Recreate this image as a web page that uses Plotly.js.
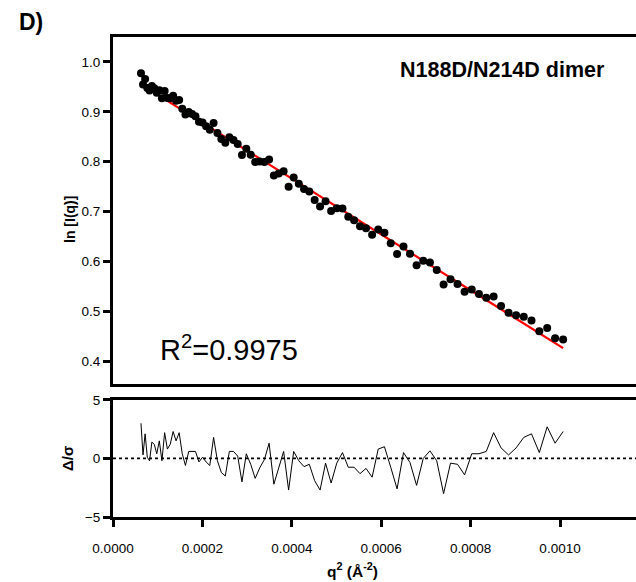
<!DOCTYPE html>
<html>
<head>
<meta charset="utf-8">
<script src="https://cdn.plot.ly/plotly-3.0.1.min.js"></script>
<style>html,body{margin:0;padding:0;background:#fff;}#chart{width:636px;height:582px;}</style>
</head>
<body>
<div id="chart"></div>
<script>
// q^2 values (Å^-2)
var q2 = [0.00006257,0.00006714,0.00007186,0.00007675,0.00008180,0.00008701,0.00009238,0.00009792,0.00010361,0.00010946,
0.00011548,0.00012165,0.00012799,0.00013449,0.00014114,0.00014796,0.00015494,0.00016208,0.00016939,0.00017685,
0.00018447,0.00019226,0.00020020,0.00020831,0.00021657,0.00022500,0.00023359,0.00024234,0.00025125,0.00026032,
0.00026955,0.00027894,0.00028850,0.00029821,0.00030809,0.00031812,0.00032832,0.00033868,0.00034920,0.00035988,
0.00037072,0.00038172,0.00039288,0.00040420,0.00041569,0.00042733,0.00043914,0.00045110,0.00046323,0.00047552,
0.00048797,0.00050058,0.00051335,0.00052628,0.00053937,0.00055263,0.00056604,0.00057962,0.00059335,0.00060725,
0.00062131,0.00063552,0.00064990,0.00066444,0.00067914,0.00069401,0.00070903,0.00072421,0.00073956,0.00075506,
0.00077073,0.00078656,0.00080254,0.00081869,0.00083500,0.00085147,0.00086810,0.00088490,0.00090185,0.00091896,
0.00093624,0.00095367,0.00097127,0.00098903,0.00100695];

// ln[I(q)] measured
var lnI = [0.9775,0.9547,0.9656,0.9478,0.9427,0.9518,0.9473,0.9382,0.9433,0.9272,
0.9418,0.9279,0.9273,0.9320,0.9223,0.9236,0.9062,0.8947,0.8996,0.8955,
0.8912,0.8800,0.8787,0.8711,0.8642,0.8775,0.8577,0.8453,0.8380,0.8487,
0.8436,0.8353,0.8134,0.8260,0.8137,0.7991,0.8001,0.7995,0.8043,0.7720,
0.7764,0.7807,0.7497,0.7682,0.7557,0.7454,0.7403,0.7231,0.7103,0.7207,
0.7009,0.7067,0.7063,0.6897,0.6824,0.6707,0.6666,0.6534,0.6637,0.6574,
0.6365,0.6146,0.6299,0.6153,0.5924,0.6014,0.5978,0.5829,0.5534,0.5642,
0.5546,0.5390,0.5436,0.5345,0.5269,0.5297,0.5107,0.4968,0.4918,0.4889,
0.4815,0.4597,0.4664,0.4459,0.4434];

// residuals Δ/σ
var resid = [3.0,0.3,2.1,0.1,-0.2,1.4,1.2,0.4,1.5,-0.2,
2.2,0.8,1.2,2.3,1.5,2.2,0.4,-0.6,0.6,0.6,
0.6,-0.3,0.1,-0.3,-0.6,1.8,-0.2,-1.2,-1.5,0.6,
0.6,0.2,-2.0,0.4,-0.5,-1.7,-0.8,-0.1,1.3,-2.2,
-0.8,0.6,-2.7,0.6,-0.2,-0.7,-0.5,-1.9,-2.7,-0.4,
-2.1,-0.4,0.5,-0.75,-0.75,-1.3,-0.85,-1.6,0.8,1.0,
-0.75,-2.6,0.5,-0.35,-2.3,0.0,0.65,-0.2,-3.0,-0.4,
-0.5,-1.4,0.4,0.4,0.6,2.2,0.9,0.3,0.9,1.8,
2.1,0.5,2.7,1.3,2.3];

// Guinier fit line end points
var fitQ2 = [0.00006257, 0.00100695];
var fitLnI = [0.9550, 0.4261];

var xTicks = [0, 0.0002, 0.0004, 0.0006, 0.0008, 0.0010];
var yTicksTop = [0.4, 0.5, 0.6, 0.7, 0.8, 0.9, 1.0];
var yTicksBot = [-5, 0, 5];

var FONT = 'Liberation Sans, Arial, sans-serif';

var traces = [
  {x: fitQ2, y: fitLnI, type: 'scatter', mode: 'lines', line: {color: '#ff0000', width: 2.2}, xaxis: 'x', yaxis: 'y', hoverinfo: 'skip'},
  {x: q2, y: lnI, type: 'scatter', mode: 'markers', marker: {color: '#000', size: 8}, xaxis: 'x', yaxis: 'y'},
  {x: q2, y: resid, type: 'scatter', mode: 'lines', line: {color: '#000', width: 1}, xaxis: 'x2', yaxis: 'y2'}
];

var xr = [0, 0.00117];
var layout = {
  width: 636, height: 582,
  margin: {l: 113, r: 0, t: 37, b: 65},
  paper_bgcolor: '#fff', plot_bgcolor: '#fff',
  showlegend: false,
  font: {family: FONT, color: '#000', size: 12},
  xaxis: {domain: [0, 1], range: xr, anchor: 'y', showline: true, linewidth: 3, linecolor: '#000', mirror: true,
          showticklabels: false, ticks: '', showgrid: false, zeroline: false},
  yaxis: {domain: [0.277, 1], range: [0.354, 1.050], anchor: 'x', showline: true, linewidth: 3, linecolor: '#000',
          tickvals: yTicksTop, ticktext: yTicksTop.map(function(v){return v.toFixed(1);}),
          ticks: 'outside', ticklen: 7, tickwidth: 3, tickcolor: '#000', showgrid: false, zeroline: false,
          tickfont: {family: FONT, size: 13.5, color: '#000'}},
  xaxis2: {domain: [0, 1], range: xr, anchor: 'y2', showline: true, linewidth: 3, linecolor: '#000', mirror: true,
           tickvals: xTicks, ticktext: xTicks.map(function(v){return v.toFixed(4);}),
           ticks: 'outside', ticklen: 7, tickwidth: 3, tickcolor: '#000', showgrid: false, zeroline: false,
           ticklabelstandoff: 10, tickfont: {family: FONT, size: 13.5, color: '#000'}},
  yaxis2: {domain: [0, 0.244], range: [-5, 5], anchor: 'x2', showline: true, linewidth: 3, linecolor: '#000',
           tickvals: yTicksBot, ticks: 'outside', ticklen: 7, tickwidth: 3, tickcolor: '#000',
           showgrid: false, zeroline: false, tickfont: {family: FONT, size: 13.5, color: '#000'}},
  shapes: [
    {type: 'line', xref: 'x2 domain', yref: 'y2', x0: 0, x1: 1, y0: 0, y1: 0,
     line: {color: '#000', width: 1.8, dash: 'dot'}, layer: 'below'}
  ],
  annotations: [
    {text: '<b>D)</b>', xref: 'paper', yref: 'paper', x: -0.157, y: 1.031, xanchor: 'center', yanchor: 'middle',
     showarrow: false, font: {family: FONT, size: 23, color: '#000'}},
    {text: '<b>N188D/N214D dimer</b>', xref: 'paper', yref: 'paper', x: 0.945, y: 0.931, xanchor: 'right', yanchor: 'middle',
     showarrow: false, font: {family: FONT, size: 21.5, color: '#000'}},
    {text: 'R<sup>2</sup>=0.9975', xref: 'paper', yref: 'paper', x: 0.086, y: 0.353, xanchor: 'left', yanchor: 'middle',
     showarrow: false, font: {family: FONT, size: 29, color: '#000'}},
    {text: '<b>ln [I(q)]</b>', xref: 'paper', yref: 'paper', x: -0.082, y: 0.619, xanchor: 'center', yanchor: 'middle',
     textangle: -90, showarrow: false, font: {family: FONT, size: 14, color: '#000'}},
    {text: '<b>Δ/σ</b>', xref: 'paper', yref: 'paper', x: -0.086, y: 0.121, xanchor: 'center', yanchor: 'middle',
     textangle: -90, showarrow: false, font: {family: FONT, size: 15, color: '#000'}},
    {text: '<b>q<sup>2</sup> (Å<sup>-2</sup>)</b>', xref: 'paper', yref: 'paper', x: 0.458, y: -0.11, xanchor: 'center', yanchor: 'middle',
     showarrow: false, font: {family: FONT, size: 15.5, color: '#000'}}
  ]
};

Plotly.newPlot('chart', traces, layout, {displayModeBar: false, staticPlot: true});
</script>
</body>
</html>
